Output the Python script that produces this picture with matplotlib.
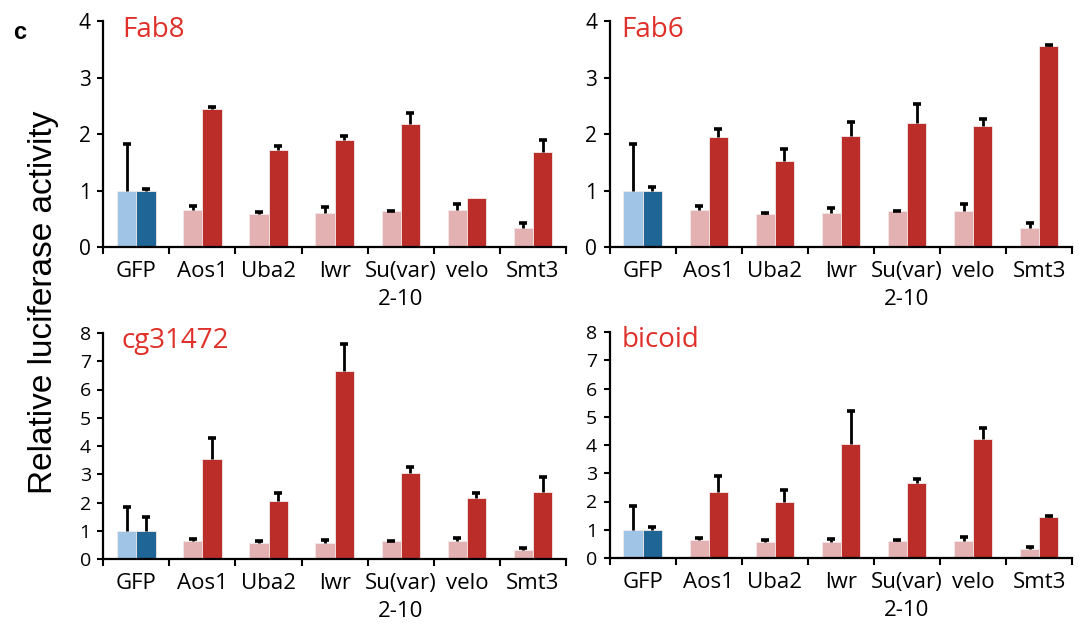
import matplotlib.pyplot as plt
import numpy as np

plt.rcParams['font.family'] = ['Open Sans', 'DejaVu Sans']

genes = ['GFP', 'Aos1', 'Uba2', 'lwr', 'Su(var)\n2-10', 'velo', 'Smt3']

# control (light) and knockdown (dark) bars, upward error sizes
fab8_ctrl = [1.0, 0.65, 0.58, 0.60, 0.63, 0.65, 0.33]
fab8_ctrl_err = [0.83, 0.08, 0.04, 0.10, 0.01, 0.11, 0.09]
fab8_kd = [1.0, 2.45, 1.71, 1.90, 2.17, 0.87, 1.68]
fab8_kd_err = [0.02, 0.02, 0.08, 0.06, 0.21, 0.0, 0.21]

fab6_ctrl = [1.0, 0.65, 0.58, 0.60, 0.63, 0.64, 0.33]
fab6_ctrl_err = [0.83, 0.08, 0.03, 0.09, 0.01, 0.12, 0.09]
fab6_kd = [1.0, 1.95, 1.52, 1.96, 2.20, 2.14, 3.56]
fab6_kd_err = [0.06, 0.14, 0.21, 0.25, 0.33, 0.12, 0.02]

cg_ctrl = [1.0, 0.64, 0.57, 0.58, 0.62, 0.63, 0.32]
cg_ctrl_err = [0.84, 0.08, 0.05, 0.10, 0.02, 0.13, 0.08]
cg_kd = [1.0, 3.55, 2.05, 6.65, 3.05, 2.16, 2.36]
cg_kd_err = [0.48, 0.73, 0.30, 0.96, 0.20, 0.16, 0.54]

bcd_ctrl = [1.0, 0.64, 0.57, 0.58, 0.61, 0.61, 0.32]
bcd_ctrl_err = [0.83, 0.08, 0.06, 0.11, 0.03, 0.15, 0.08]
bcd_kd = [1.0, 2.35, 2.00, 4.03, 2.66, 4.20, 1.45]
bcd_kd_err = [0.09, 0.55, 0.40, 1.17, 0.15, 0.41, 0.04]

light = ['#9fc4e5'] + ['#e3b1b1'] * 6
dark = ['#1f6696'] + ['#bb2d28'] * 6

fig = plt.figure(figsize=(10.79, 6.26), dpi=100)


def panel(rect, title, ctrl, ctrl_err, kd, kd_err, ymax, fs, tx, ty):
    ax = fig.add_axes(rect)
    x = np.arange(len(genes))
    w = 0.29
    ax.bar(x - w / 2, ctrl, w, color=light, edgecolor='#f4eaea', lw=0.6)
    ax.bar(x + w / 2, kd, w, color=dark, edgecolor='#f4eaea', lw=0.6)
    for xs, v, e in [(x - w / 2, ctrl, ctrl_err), (x + w / 2, kd, kd_err)]:
        v = np.array(v)
        e = np.array(e)
        m = e > 0
        ax.vlines(xs[m], v[m], v[m] + e[m], color='k', lw=2, zorder=3)
        ax.plot(xs[m], v[m] + e[m], ls='none', marker='_', ms=5.5, mew=2.6,
                color='k', zorder=3, clip_on=False)
    ax.set_xlim(-0.5, len(genes) - 0.5)
    ax.set_ylim(0, ymax)
    ax.set_yticks(range(ymax + 1))
    ax.tick_params(axis='y', labelsize=fs, width=1.5, length=4, pad=5)
    ax.set_xticks(np.arange(len(genes) + 1) - 0.5)
    ax.set_xticklabels([])
    ax.tick_params(axis='x', which='major', width=1.5, length=5)
    ax.set_xticks(x, minor=True)
    ax.set_xticklabels(genes, minor=True, fontsize=16)
    ax.tick_params(axis='x', which='minor', length=0, pad=10)
    for lbl in ax.get_xticklabels(minor=True):
        lbl.set_linespacing(1.45)
    for s in ['top', 'right']:
        ax.spines[s].set_visible(False)
    for s in ['left', 'bottom']:
        ax.spines[s].set_linewidth(1.6)
    ax.text(tx, ty, title, transform=ax.transAxes, color='#e0302a',
            fontsize=20, va='baseline', ha='left')
    return ax


pw = 462.7 / 1079
ph = 226 / 626
panel([103.3 / 1079, 1 - 247 / 626, pw, ph], 'Fab8',
      fab8_ctrl, fab8_ctrl_err, fab8_kd, fab8_kd_err, 4, 15, 0.04, 0.93)
panel([609.6 / 1079, 1 - 247 / 626, pw, ph], 'Fab6',
      fab6_ctrl, fab6_ctrl_err, fab6_kd, fab6_kd_err, 4, 15, 0.025, 0.93)
panel([103.3 / 1079, 1 - 559 / 626, pw, ph], 'cg31472',
      cg_ctrl, cg_ctrl_err, cg_kd, cg_kd_err, 8, 14, 0.04, 0.935)
panel([609.6 / 1079, 1 - 558 / 626, pw, ph], 'bicoid',
      bcd_ctrl, bcd_ctrl_err, bcd_kd, bcd_kd_err, 8, 14, 0.025, 0.935)

fig.text(0.04, 0.517, 'Relative luciferase activity', rotation=90,
         family='Liberation Sans', fontsize=24, ha='center', va='center')
fig.text(0.012, 0.938, 'c', family='Liberation Sans', fontweight='bold',
         fontsize=17, ha='left', va='baseline')

fig.savefig('out.png', dpi=100)
